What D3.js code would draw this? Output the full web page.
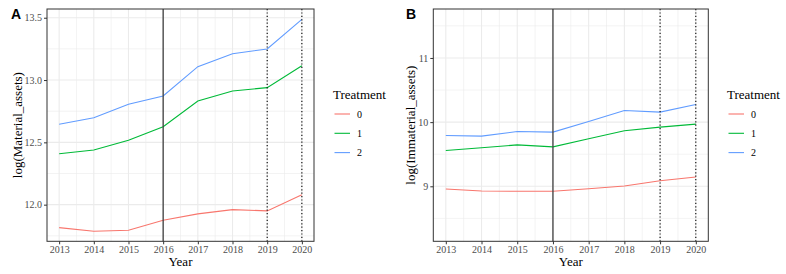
<!DOCTYPE html>
<html>
<head>
<meta charset="utf-8">
<script src="https://cdn.jsdelivr.net/npm/d3@7"></script>
<style>
  body { margin: 0; background: #fff; }
  svg { display: block; }
</style>
</head>
<body>
<div class="Aligner"></div>
<script>
var years = [2013, 2014, 2015, 2016, 2017, 2018, 2019, 2020];
var treatments = ["0", "1", "2"];
var colours = ["#F8766D", "#00BA38", "#619CFF"];

// panel A: log(Material_assets)
var material0 = [11.816, 11.787, 11.795, 11.875, 11.926, 11.960, 11.950, 12.080];
var material1 = [12.409, 12.439, 12.517, 12.626, 12.832, 12.912, 12.939, 13.115];
var material2 = [12.645, 12.698, 12.805, 12.872, 13.107, 13.211, 13.249, 13.487];
var materialTicks = [12.0, 12.5, 13.0, 13.5];

// panel B: log(Immaterial_assets)
var immaterial0 = [8.958, 8.927, 8.922, 8.922, 8.963, 9.005, 9.087, 9.145];
var immaterial1 = [9.558, 9.600, 9.646, 9.615, 9.740, 9.866, 9.922, 9.969];
var immaterial2 = [9.791, 9.782, 9.854, 9.844, 10.010, 10.181, 10.156, 10.274];
var immaterialTicks = [9, 10, 11];

var solidYear = 2016;
var dottedYears = [2019, 2020];

var W = 786, H = 274;
var serif = "'Liberation Serif', 'DejaVu Serif', serif";

var svg = d3.select(".Aligner")
  .append("svg")
  .attr("width", W)
  .attr("height", H);

function panel(cfg) {
  var g = svg.append("g");
  var left = cfg.left, right = cfg.right, top = 9, bottom = 241.3;

  var x = d3.scaleLinear()
    .domain([2012.65, 2020.35])
    .range([left, right]);
  var y = d3.scaleLinear()
    .domain(cfg.ydomain)
    .range([bottom, top]);

  // minor grid
  var xMinor = d3.range(2012.5, 2021, 1).filter(function(v){ return x(v) > left && x(v) < right; });
  g.selectAll(".xminor").data(xMinor).enter().append("line")
    .attr("x1", function(d){ return x(d); }).attr("x2", function(d){ return x(d); })
    .attr("y1", top).attr("y2", bottom)
    .attr("stroke", "#ebebeb").attr("stroke-width", 0.6);
  g.selectAll(".yminor").data(cfg.yminor).enter().append("line")
    .attr("x1", left).attr("x2", right)
    .attr("y1", function(d){ return y(d); }).attr("y2", function(d){ return y(d); })
    .attr("stroke", "#ebebeb").attr("stroke-width", 0.6);

  // major grid
  g.selectAll(".xmajor").data(years).enter().append("line")
    .attr("x1", function(d){ return x(d); }).attr("x2", function(d){ return x(d); })
    .attr("y1", top).attr("y2", bottom)
    .attr("stroke", "#ebebeb").attr("stroke-width", 1.1);
  g.selectAll(".ymajor").data(cfg.yticks).enter().append("line")
    .attr("x1", left).attr("x2", right)
    .attr("y1", function(d){ return y(d); }).attr("y2", function(d){ return y(d); })
    .attr("stroke", "#ebebeb").attr("stroke-width", 1.1);

  // lines
  var line = d3.line()
    .x(function(d, i){ return x(years[i]); })
    .y(function(d){ return y(d); });
  cfg.series.forEach(function(s, i){
    g.append("path")
      .attr("d", line(s))
      .attr("fill", "none")
      .attr("stroke", colours[i])
      .attr("stroke-width", 1.1);
  });

  // reference lines
  g.append("line")
    .attr("x1", x(solidYear)).attr("x2", x(solidYear))
    .attr("y1", top).attr("y2", bottom)
    .attr("stroke", "#404040").attr("stroke-width", 1.3);
  g.selectAll(".dotted").data(dottedYears).enter().append("line")
    .attr("x1", function(d){ return x(d); }).attr("x2", function(d){ return x(d); })
    .attr("y1", top).attr("y2", bottom)
    .attr("stroke", "#000").attr("stroke-width", 1.1)
    .attr("stroke-dasharray", "1.2,2.2");

  // border
  g.append("rect")
    .attr("x", left).attr("y", top)
    .attr("width", right - left).attr("height", bottom - top)
    .attr("fill", "none").attr("stroke", "#333333").attr("stroke-width", 1);

  // axes
  var xAxis = g.append("g")
    .attr("transform", "translate(0," + bottom + ")")
    .call(d3.axisBottom(x).tickValues(years).tickFormat(d3.format("d")).tickSize(3).tickPadding(2));
  var yAxis = g.append("g")
    .attr("transform", "translate(" + left + ",0)")
    .call(d3.axisLeft(y).tickValues(cfg.yticks).tickFormat(cfg.yfmt).tickSize(3).tickPadding(2));
  [xAxis, yAxis].forEach(function(a){
    a.select(".domain").remove();
    a.selectAll(".tick line").attr("stroke", "#333333");
    a.selectAll(".tick text")
      .attr("fill", "#4d4d4d")
      .style("font-family", serif)
      .style("font-size", "10px");
  });

  // titles
  g.append("text")
    .attr("x", (left + right) / 2).attr("y", 266)
    .attr("text-anchor", "middle")
    .style("font-family", serif).style("font-size", "13px")
    .attr("fill", "#000")
    .text("Year");
  g.append("text")
    .attr("transform", "translate(" + cfg.ytitleX + "," + ((top + bottom) / 2) + ") rotate(-90)")
    .attr("text-anchor", "middle")
    .style("font-family", serif).style("font-size", "13px")
    .attr("fill", "#000")
    .text(cfg.ytitle);
  g.append("text")
    .attr("x", cfg.tagX).attr("y", 19)
    .style("font-family", "'Liberation Sans', Arial, sans-serif")
    .style("font-size", "14px").style("font-weight", "bold")
    .text(cfg.tag);

  // legend
  var lg = g.append("g").attr("transform", "translate(" + cfg.legendX + ",0)");
  lg.append("text")
    .attr("x", 0).attr("y", 99)
    .style("font-family", serif).style("font-size", "13px")
    .text("Treatment");
  treatments.forEach(function(t, i){
    var yy = 114 + i * 19.3;
    lg.append("line")
      .attr("x1", 1.5).attr("x2", 17)
      .attr("y1", yy).attr("y2", yy)
      .attr("stroke", colours[i]).attr("stroke-width", 1.1);
    lg.append("text")
      .attr("x", 24).attr("y", yy + 3.5)
      .style("font-family", serif).style("font-size", "10px")
      .text(t);
  });
}

panel({
  left: 47, right: 314,
  ydomain: [11.706, 13.57],
  yticks: materialTicks,
  yminor: [11.75, 12.25, 12.75, 13.25],
  yfmt: d3.format(".1f"),
  series: [material0, material1, material2],
  ytitle: "log(Material_assets)",
  ytitleX: 22,
  tag: "A", tagX: 11,
  legendX: 333
});

panel({
  left: 433.3, right: 708.3,
  ydomain: [8.143, 11.763],
  yticks: immaterialTicks,
  yminor: [8.5, 9.5, 10.5, 11.5],
  yfmt: d3.format("d"),
  series: [immaterial0, immaterial1, immaterial2],
  ytitle: "log(Immaterial_assets)",
  ytitleX: 415,
  tag: "B", tagX: 406,
  legendX: 727
});
</script>
</body>
</html>
